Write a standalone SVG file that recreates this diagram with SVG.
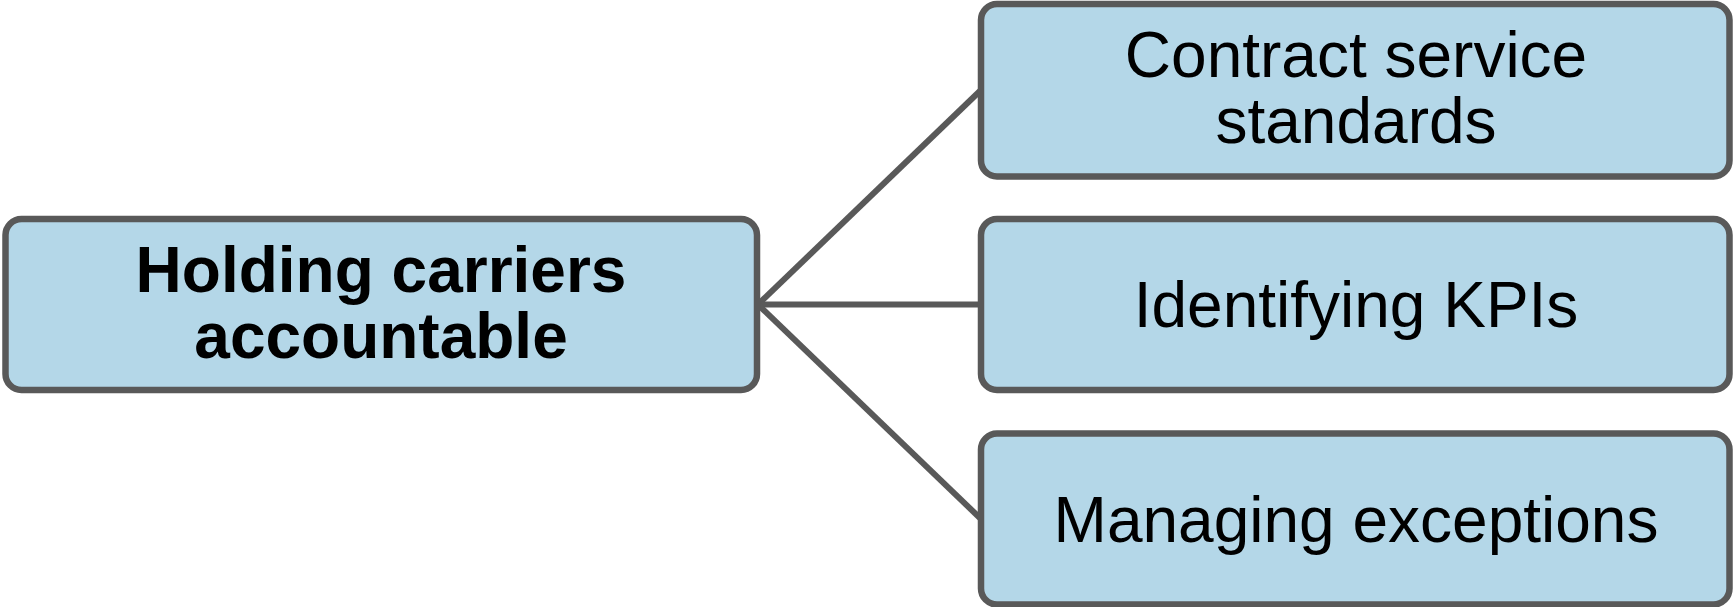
<svg xmlns="http://www.w3.org/2000/svg" width="1733" height="607" viewBox="0 0 1733 607">
<style>
.box{fill:#b4d7e8;stroke:#595959;stroke-width:6.5}
.conn{stroke:#595959;stroke-width:6;fill:none}
.t{font-family:"Liberation Sans",Arial,sans-serif;font-size:64px;fill:#000;text-anchor:middle}
.b{font-weight:bold;font-size:64px}
</style>
<rect width="1733" height="607" fill="#ffffff"/>
<g id="connectors">
<line class="conn" x1="758" y1="304.5" x2="981" y2="90"/>
<line class="conn" x1="758" y1="304.5" x2="981" y2="304.5"/>
<line class="conn" x1="758" y1="304.5" x2="981" y2="519"/>
</g>
<g id="node-root">
<rect class="box" x="5.5" y="219" width="751.5" height="171" rx="16"/>
<text class="t b" x="381" y="292">Holding carriers</text>
<text class="t b" x="381" y="358">accountable</text>
</g>
<g id="node-contract">
<rect class="box" x="981" y="4" width="748.5" height="172.5" rx="16"/>
<text class="t" x="1356" y="77">Contract service</text>
<text class="t" x="1356" y="143">standards</text>
</g>
<g id="node-kpis">
<rect class="box" x="981" y="219" width="748.5" height="171" rx="16"/>
<text class="t" x="1356" y="327">Identifying KPIs</text>
</g>
<g id="node-exceptions">
<rect class="box" x="981" y="433.5" width="748.5" height="171" rx="16"/>
<text class="t" x="1356" y="542">Managing exceptions</text>
</g>
</svg>
